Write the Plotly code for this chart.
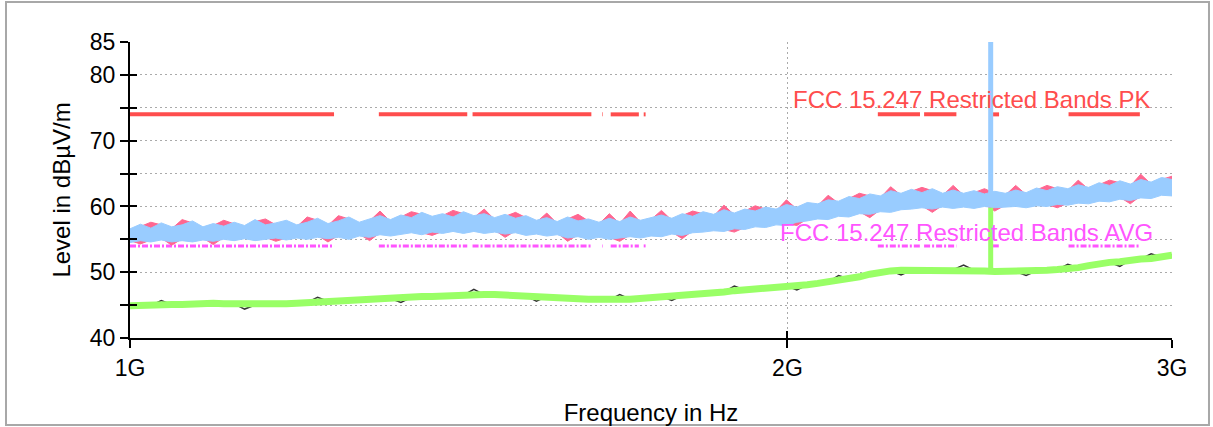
import plotly.graph_objects as go

# ---------------- data ----------------
freq_mhz = [1000.0, 1011.1, 1022.2, 1033.5, 1044.9, 1056.5, 1068.1, 1079.9, 1091.8, 1103.9,
            1116.1, 1128.4, 1140.9, 1153.5, 1166.2, 1179.2, 1192.2, 1205.4, 1218.7, 1232.1,
            1245.7, 1259.5, 1273.4, 1287.4, 1301.6, 1316.1, 1330.6, 1345.3, 1360.2, 1375.2,
            1390.4, 1405.8, 1421.3, 1437.0, 1452.8, 1468.9, 1485.1, 1501.5, 1518.1, 1534.9,
            1551.8, 1569.0, 1586.3, 1603.8, 1621.5, 1639.5, 1657.6, 1675.9, 1694.4, 1713.1,
            1732.1, 1751.2, 1770.5, 1790.1, 1809.8, 1829.8, 1850.1, 1870.5, 1891.1, 1912.0,
            1933.2, 1954.5, 1976.1, 1997.9, 2020.0, 2042.3, 2064.9, 2087.7, 2110.7, 2134.0,
            2157.7, 2181.5, 2205.6, 2229.9, 2254.5, 2279.5, 2304.7, 2330.1, 2355.8, 2381.8,
            2408.2, 2434.8, 2461.7, 2488.8, 2516.3, 2544.2, 2572.3, 2600.7, 2629.4, 2658.4,
            2687.9, 2717.5, 2747.5, 2777.9, 2808.5, 2839.6, 2871.0, 2902.7, 2934.7, 2967.1,
            3000.0]

# peak trace 1 (pink) upper / lower envelope, dBuV/m
pk1_hi = [56.3, 57.0, 57.6, 57.2, 56.6, 58.0, 57.5, 56.6, 57.1, 57.9,
          57.3, 56.8, 57.7, 58.1, 57.2, 57.6, 56.9, 58.4, 57.9, 57.1,
          58.6, 58.1, 57.3, 57.8, 59.3, 57.7, 58.4, 59.2, 58.8, 58.2,
          58.6, 59.4, 58.9, 58.3, 59.6, 58.0, 58.5, 59.1, 58.3, 57.6,
          59.0, 57.4, 58.1, 58.8, 57.8, 57.3, 58.9, 57.4, 59.3, 57.6,
          58.0, 59.4, 57.9, 58.6, 59.3, 58.9, 58.5, 60.2, 58.7, 59.3,
          60.1, 59.6, 59.3, 61.0, 59.6, 60.3, 60.1, 61.7, 60.5, 61.2,
          62.0, 61.6, 61.3, 63.0, 61.7, 62.3, 62.9, 62.4, 61.7, 63.2,
          61.7, 62.1, 62.7, 62.0, 61.7, 63.2, 61.8, 62.5, 63.2, 62.7,
          62.4, 64.0, 62.6, 63.3, 64.0, 63.6, 63.1, 64.9, 63.4, 64.1,
          64.6]
pk1_lo = [54.8, 54.3, 54.9, 55.2, 54.1, 55.1, 54.9, 55.2, 54.2, 55.3,
          55.1, 55.4, 55.1, 55.3, 54.7, 55.2, 55.5, 55.3, 55.6, 54.6,
          55.6, 55.3, 55.8, 54.8, 56.0, 55.8, 56.1, 56.3, 56.0, 55.6,
          56.2, 56.5, 56.2, 56.5, 56.2, 56.4, 55.3, 56.3, 55.9, 56.1,
          55.8, 56.0, 54.7, 55.7, 55.3, 55.6, 55.3, 54.7, 55.7, 55.5,
          55.8, 55.7, 56.1, 55.1, 56.3, 56.4, 56.6, 56.5, 56.1, 56.8,
          57.2, 57.1, 57.5, 57.4, 57.1, 58.1, 58.4, 58.3, 58.8, 58.7,
          59.2, 58.3, 59.5, 59.4, 59.8, 59.9, 60.1, 59.1, 60.2, 60.0,
          60.2, 60.0, 60.3, 59.3, 60.2, 60.3, 60.1, 60.4, 60.3, 59.8,
          60.5, 60.8, 60.7, 61.1, 61.0, 61.4, 60.4, 61.6, 61.5, 62.0,
          61.9]

# peak trace 2 (light blue) upper / lower envelope
pk2_hi = [56.6, 57.3, 56.7, 57.5, 56.9, 57.2, 57.8, 56.9, 57.4, 57.0,
          57.6, 57.1, 58.0, 57.2, 57.5, 57.9, 57.2, 57.6, 58.2, 57.4,
          57.8, 58.4, 57.6, 58.1, 58.6, 58.0, 58.7, 58.3, 59.1, 58.5,
          58.9, 58.4, 59.2, 58.6, 58.9, 58.3, 58.8, 58.2, 58.6, 57.9,
          58.3, 57.7, 58.4, 57.8, 58.1, 57.6, 58.2, 57.7, 58.4, 57.9,
          58.3, 58.7, 58.2, 58.9, 58.5, 59.2, 58.8, 59.5, 59.0, 59.6,
          59.3, 59.9, 59.6, 60.3, 59.9, 60.6, 60.4, 61.0, 60.8, 61.5,
          61.2, 61.9, 61.6, 62.4, 62.0, 62.6, 62.1, 62.7, 62.0, 62.5,
          62.0, 62.4, 61.9, 62.3, 62.0, 62.5, 62.1, 62.8, 62.4, 63.0,
          62.7, 63.3, 62.9, 63.6, 63.2, 63.9, 63.4, 64.1, 63.7, 64.4,
          64.1]
pk2_lo = [54.5, 54.8, 54.6, 54.9, 54.6, 54.8, 54.6, 54.9, 54.7, 55.0,
          54.8, 55.1, 54.8, 55.0, 55.2, 54.9, 55.2, 55.0, 55.3, 55.1,
          55.3, 55.0, 55.5, 55.3, 55.7, 55.5, 55.8, 56.0, 55.7, 56.1,
          55.9, 56.2, 55.9, 56.2, 55.9, 56.1, 55.8, 56.0, 55.6, 55.8,
          55.5, 55.7, 55.2, 55.4, 55.0, 55.3, 55.0, 55.2, 55.4, 55.2,
          55.5, 55.4, 55.8, 55.6, 56.0, 56.1, 56.3, 56.2, 56.6, 56.5,
          56.9, 56.8, 57.2, 57.1, 57.6, 57.8, 58.1, 58.0, 58.5, 58.4,
          58.9, 58.8, 59.2, 59.1, 59.5, 59.6, 59.8, 59.6, 59.9, 59.7,
          59.9, 59.7, 60.0, 59.8, 59.9, 60.0, 59.8, 60.1, 60.0, 60.3,
          60.2, 60.5, 60.4, 60.8, 60.7, 61.1, 60.9, 61.3, 61.2, 61.7,
          61.6]

# average traces
avg1 = [44.9, 45.0, 44.9, 45.0, 45.1, 45.1, 45.2, 45.1, 45.3, 45.2,
        45.2, 45.1, 45.0, 45.0, 45.1, 45.2, 45.3, 45.4, 45.5, 45.6,
        45.7, 45.7, 45.8, 45.9, 45.9, 46.0, 46.1, 46.2, 46.3, 46.3,
        46.4, 46.5, 46.5, 46.6, 46.6, 46.6, 46.5, 46.5, 46.4, 46.3,
        46.3, 46.2, 46.1, 46.0, 45.9, 45.9, 45.8, 45.9, 45.9, 46.0,
        46.2, 46.3, 46.4, 46.5, 46.6, 46.7, 46.9, 47.0, 47.2, 47.3,
        47.4, 47.6, 47.8, 47.9, 48.0, 48.1, 48.3, 48.5, 48.7, 49.0,
        49.3, 49.7, 50.0, 50.2, 50.3, 50.3, 50.4, 50.4, 50.3, 50.4,
        50.4, 50.3, 50.2, 50.1, 50.1, 50.1, 50.2, 50.2, 50.3, 50.4,
        50.5, 50.7, 51.0, 51.3, 51.5, 51.6, 51.9, 52.0, 52.1, 52.3,
        52.6]
avg2 = [44.9, 45.0, 44.9, 45.7, 45.1, 45.1, 45.2, 45.1, 45.3, 45.2,
        45.2, 44.4, 45.0, 45.0, 45.1, 45.2, 45.3, 45.4, 46.2, 45.6,
        45.7, 45.7, 45.8, 45.9, 45.9, 46.0, 45.4, 46.2, 46.3, 46.3,
        46.4, 46.5, 46.5, 47.4, 46.6, 46.6, 46.5, 46.5, 46.4, 45.6,
        46.3, 46.2, 46.1, 46.0, 45.9, 45.9, 45.8, 46.6, 45.9, 46.0,
        46.2, 46.3, 45.7, 46.5, 46.6, 46.7, 46.9, 47.0, 47.9, 47.3,
        47.4, 47.6, 47.8, 47.9, 47.3, 48.1, 48.3, 48.5, 49.5, 49.0,
        49.3, 49.7, 50.0, 50.2, 49.6, 50.3, 50.4, 50.4, 50.3, 50.4,
        51.1, 50.3, 50.2, 50.1, 50.1, 50.1, 49.5, 50.2, 50.3, 50.4,
        51.2, 50.7, 51.0, 51.3, 51.5, 50.9, 51.9, 52.0, 52.8, 52.3,
        52.6]

# carrier (fundamental) spike
carrier_mhz = 2478.0
carrier_pk = [60.5, 86.0]
carrier_avg = [50.2, 59.8]

# FCC 15.247 restricted bands (MHz) and limits
band_start = [1000.0, 1300.0, 1435.0, 1645.5, 1660.0, 1718.8, 2200.0, 2310.0, 2483.5, 2690.0]
band_end = [1240.0, 1427.0, 1626.5, 1646.5, 1710.0, 1722.2, 2300.0, 2390.0, 2500.0, 2900.0]
limit_pk = 74.0
limit_avg = 54.0

y_tickvals = [40, 45, 50, 55, 60, 65, 70, 75, 80, 85]
y_ticktext = ["40", "", "50", "", "60", "", "70", "", "80", "85"]
x_tickvals = [1000, 2000, 3000]
x_ticktext = ["1G", "2G", "3G"]

# ---------------- figure ----------------
FONT = "Liberation Sans"
PINK = "#ff6690"
BLUE = "#99ccff"
GREEN = "#99ff66"
RED = "#ff4d4d"
MAGENTA = "#ff55ff"

fig = go.Figure()

lim_x, lim_pk_y, lim_avg_y = [], [], []
for s, e in zip(band_start, band_end):
    lim_x += [s, e, None]
    lim_pk_y += [limit_pk, limit_pk, None]
    lim_avg_y += [limit_avg, limit_avg, None]

fig.add_trace(go.Scatter(x=lim_x, y=lim_pk_y, mode="lines",
                         line=dict(color=RED, width=4), connectgaps=False, hoverinfo="skip"))
fig.add_trace(go.Scatter(x=lim_x, y=lim_avg_y, mode="lines",
                         line=dict(color=MAGENTA, width=3, dash="6px,2px,2px,2px"),
                         connectgaps=False, hoverinfo="skip"))

# pink band
fig.add_trace(go.Scatter(x=freq_mhz, y=pk1_lo, mode="lines",
                         line=dict(color=PINK, width=1), hoverinfo="skip"))
fig.add_trace(go.Scatter(x=freq_mhz, y=pk1_hi, mode="lines", fill="tonexty",
                         fillcolor=PINK, line=dict(color=PINK, width=1), hoverinfo="skip"))
# blue band
fig.add_trace(go.Scatter(x=freq_mhz, y=pk2_lo, mode="lines",
                         line=dict(color=BLUE, width=1), hoverinfo="skip"))
fig.add_trace(go.Scatter(x=freq_mhz, y=pk2_hi, mode="lines", fill="tonexty",
                         fillcolor=BLUE, line=dict(color=BLUE, width=1), hoverinfo="skip"))
# average traces
fig.add_trace(go.Scatter(x=freq_mhz, y=avg2, mode="lines",
                         line=dict(color="#333333", width=1.5), hoverinfo="skip"))
fig.add_trace(go.Scatter(x=freq_mhz, y=avg1, mode="lines",
                         line=dict(color=GREEN, width=7), hoverinfo="skip"))
# carrier spikes
fig.add_trace(go.Scatter(x=[carrier_mhz, carrier_mhz], y=carrier_pk, mode="lines",
                         line=dict(color=BLUE, width=5), hoverinfo="skip"))
fig.add_trace(go.Scatter(x=[carrier_mhz, carrier_mhz], y=carrier_avg, mode="lines",
                         line=dict(color=GREEN, width=5), hoverinfo="skip"))

# helper invisible trace for the overlay axes (inner tick marks)
fig.add_trace(go.Scatter(x=[1000], y=[40], xaxis="x2", yaxis="y2", mode="markers",
                         marker=dict(opacity=0), hoverinfo="skip"))

xr = [3.0, 3.4771212547]
fig.update_layout(
    width=1213, height=427,
    margin=dict(l=130, r=41, t=42, b=89, autoexpand=False),
    paper_bgcolor="white", plot_bgcolor="white",
    showlegend=False,
    font=dict(family=FONT, color="black", size=23),
    xaxis=dict(type="log", range=xr, tickvals=x_tickvals, ticktext=x_ticktext,
               showgrid=True, gridcolor="#aaaaaa", gridwidth=1, griddash="2px,3px",
               showline=True, linecolor="black", linewidth=2,
               ticks="outside", ticklen=8, tickwidth=2, tickcolor="black",
               tickfont=dict(family=FONT, size=23), zeroline=False, automargin=False,
               title=dict(text="Frequency in Hz", font=dict(family=FONT, size=24), standoff=25)),
    yaxis=dict(range=[40, 85], tickvals=y_tickvals, ticktext=y_ticktext,
               showgrid=True, gridcolor="#aaaaaa", gridwidth=1, griddash="2px,3px",
               showline=True, linecolor="black", linewidth=2,
               ticks="outside", ticklen=8, tickwidth=2, tickcolor="black",
               tickfont=dict(family=FONT, size=23), zeroline=False, automargin=False,
               title=dict(text="Level in dBµV/m", font=dict(family=FONT, size=24), standoff=12)),
    xaxis2=dict(type="log", range=xr, overlaying="x", anchor="y2", side="bottom",
                tickvals=x_tickvals, showticklabels=False, showgrid=False, showline=False,
                ticks="inside", ticklen=7, tickwidth=2, tickcolor="black", zeroline=False),
    yaxis2=dict(range=[40, 85], overlaying="y", anchor="x2", side="left",
                tickvals=y_tickvals, showticklabels=False, showgrid=False, showline=False,
                ticks="inside", ticklen=7, tickwidth=2, tickcolor="black", zeroline=False),
    annotations=[
        dict(text="FCC 15.247 Restricted Bands PK", xref="paper", yref="y",
             x=0.9818, y=76.2, xanchor="right", yanchor="middle", showarrow=False,
             font=dict(family=FONT, size=24, color=RED)),
        dict(text="FCC 15.247 Restricted Bands AVG", xref="paper", yref="y",
             x=0.9837, y=56.1, xanchor="right", yanchor="middle", showarrow=False,
             font=dict(family=FONT, size=24, color=MAGENTA)),
    ],
    shapes=[
        dict(type="rect", xref="paper", yref="paper",
             x0=-0.119, x1=1.0355, y0=-0.294, y1=1.135,
             line=dict(color="#a8a8a8", width=2), fillcolor="rgba(0,0,0,0)", layer="below"),
    ],
)

fig.write_html("out.html", config={"displayModeBar": False})
